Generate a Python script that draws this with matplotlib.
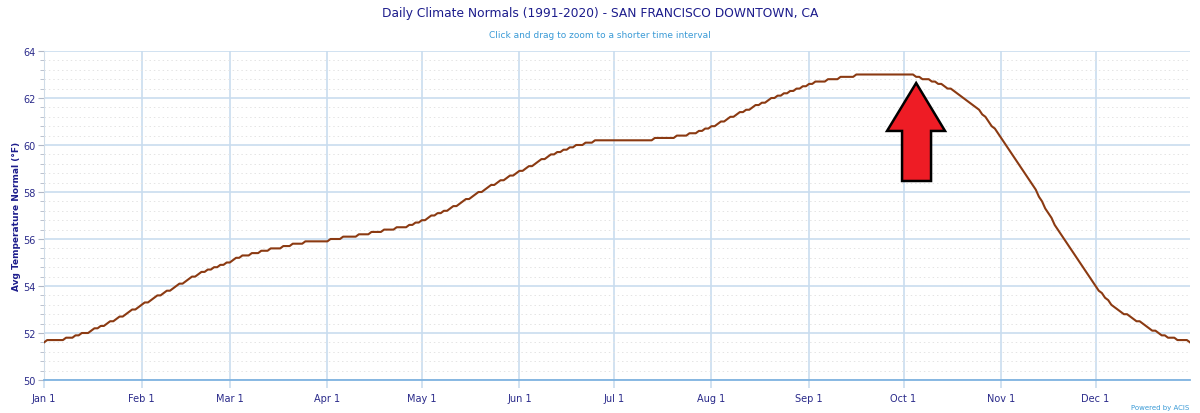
import matplotlib
matplotlib.use("Agg")
import matplotlib.pyplot as plt
from matplotlib.patches import Polygon
from matplotlib.ticker import MultipleLocator
import numpy as np

# Daily normal average temperature (°F), Jan 1 .. Dec 31 (365 days)
jan = [51.6, 51.7, 51.7, 51.7, 51.7, 51.7, 51.7, 51.8, 51.8, 51.8, 51.9, 51.9, 52.0, 52.0, 52.0, 52.1,
       52.2, 52.2, 52.3, 52.3, 52.4, 52.5, 52.5, 52.6, 52.7, 52.7, 52.8, 52.9, 53.0, 53.0, 53.1]
feb = [53.2, 53.3, 53.3, 53.4, 53.5, 53.6, 53.6, 53.7, 53.8, 53.8, 53.9, 54.0, 54.1, 54.1, 54.2, 54.3,
       54.4, 54.4, 54.5, 54.6, 54.6, 54.7, 54.7, 54.8, 54.8, 54.9, 54.9, 55.0]
mar = [55.0, 55.1, 55.2, 55.2, 55.3, 55.3, 55.3, 55.4, 55.4, 55.4, 55.5, 55.5, 55.5, 55.6, 55.6, 55.6,
       55.6, 55.7, 55.7, 55.7, 55.8, 55.8, 55.8, 55.8, 55.9, 55.9, 55.9, 55.9, 55.9, 55.9, 55.9]
apr = [55.9, 56.0, 56.0, 56.0, 56.0, 56.1, 56.1, 56.1, 56.1, 56.1, 56.2, 56.2, 56.2, 56.2, 56.3, 56.3,
       56.3, 56.3, 56.4, 56.4, 56.4, 56.4, 56.5, 56.5, 56.5, 56.5, 56.6, 56.6, 56.7, 56.7]
may = [56.8, 56.8, 56.9, 57.0, 57.0, 57.1, 57.1, 57.2, 57.2, 57.3, 57.4, 57.4, 57.5, 57.6, 57.7, 57.7,
       57.8, 57.9, 58.0, 58.0, 58.1, 58.2, 58.3, 58.3, 58.4, 58.5, 58.5, 58.6, 58.7, 58.7, 58.8]
jun = [58.9, 58.9, 59.0, 59.1, 59.1, 59.2, 59.3, 59.4, 59.4, 59.5, 59.6, 59.6, 59.7, 59.7, 59.8, 59.8,
       59.9, 59.9, 60.0, 60.0, 60.0, 60.1, 60.1, 60.1, 60.2, 60.2, 60.2, 60.2, 60.2, 60.2]
jul = [60.2, 60.2, 60.2, 60.2, 60.2, 60.2, 60.2, 60.2, 60.2, 60.2, 60.2, 60.2, 60.2,
       60.3, 60.3, 60.3, 60.3, 60.3, 60.3, 60.3, 60.4, 60.4, 60.4, 60.4, 60.5, 60.5, 60.5,
       60.6, 60.6, 60.7, 60.7]
aug = [60.8, 60.8, 60.9, 61.0, 61.0, 61.1, 61.2, 61.2, 61.3, 61.4, 61.4, 61.5, 61.5, 61.6, 61.7, 61.7,
       61.8, 61.8, 61.9, 62.0, 62.0, 62.1, 62.1, 62.2, 62.2, 62.3, 62.3, 62.4, 62.4, 62.5, 62.5]
sep = [62.6, 62.6, 62.7, 62.7, 62.7, 62.7, 62.8, 62.8, 62.8, 62.8, 62.9, 62.9, 62.9, 62.9, 62.9,
       63.0, 63.0, 63.0, 63.0, 63.0, 63.0, 63.0, 63.0, 63.0, 63.0, 63.0, 63.0, 63.0, 63.0, 63.0]
oct_ = [63.0, 63.0, 63.0, 63.0, 62.9, 62.9, 62.8, 62.8, 62.8, 62.7, 62.7, 62.6, 62.6, 62.5, 62.4, 62.4,
        62.3, 62.2, 62.1, 62.0, 61.9, 61.8, 61.7, 61.6, 61.5, 61.3, 61.2, 61.0, 60.8, 60.7, 60.5]
nov = [60.3, 60.1, 59.9, 59.7, 59.5, 59.3, 59.1, 58.9, 58.7, 58.5, 58.3, 58.1, 57.8, 57.6, 57.3, 57.1,
       56.9, 56.6, 56.4, 56.2, 56.0, 55.8, 55.6, 55.4, 55.2, 55.0, 54.8, 54.6, 54.4, 54.2]
dec = [54.0, 53.8, 53.7, 53.5, 53.4, 53.2, 53.1, 53.0, 52.9, 52.8, 52.8, 52.7, 52.6, 52.5, 52.5, 52.4,
       52.3, 52.2, 52.1, 52.1, 52.0, 51.9, 51.9, 51.8, 51.8, 51.8, 51.7, 51.7, 51.7, 51.7, 51.6]

months = [jan, feb, mar, apr, may, jun, jul, aug, sep, oct_, nov, dec]
month_labels = ["Jan 1", "Feb 1", "Mar 1", "Apr 1", "May 1", "Jun 1",
                "Jul 1", "Aug 1", "Sep 1", "Oct 1", "Nov 1", "Dec 1"]

temps = np.concatenate([np.array(m) for m in months])
days = np.arange(len(temps))
month_starts = np.cumsum([0] + [len(m) for m in months[:-1]])

title_col = "#1c1c8c"
tick_col = "#2a2a8a"
grid_col = "#c9ddef"

fig = plt.figure(figsize=(12, 4.14), dpi=100)
ax = fig.add_axes([0.0367, 0.0797, 0.955, 0.7947])

ax.set_xlim(0, 364)
ax.set_ylim(50, 64)

ax.set_xticks(month_starts)
ax.set_xticklabels(month_labels)
ax.yaxis.set_major_locator(MultipleLocator(2))
ax.yaxis.set_minor_locator(MultipleLocator(0.4))

ax.grid(True, which="major", axis="both", color=grid_col, linewidth=1.2, zorder=0)
ax.grid(True, which="minor", axis="y", color="#e4e4e4", linewidth=0.7,
        linestyle=(0, (1.5, 3)), zorder=0)

for s in ["top", "right"]:
    ax.spines[s].set_visible(False)
ax.spines["left"].set_color("#d0dce8")
ax.spines["left"].set_linewidth(0.8)
ax.spines["bottom"].set_color("#7fb3e0")
ax.spines["bottom"].set_linewidth(1.3)

ax.tick_params(axis="x", which="major", length=6, width=1.2, color=grid_col,
               labelsize=7, labelcolor=tick_col, pad=3)
ax.tick_params(axis="y", which="major", length=4, width=0.8, color="#b0b8c8",
               labelsize=7, labelcolor=tick_col, pad=2)
ax.tick_params(axis="y", which="minor", length=3, width=0.6, color="#b0b8c8")

ax.plot(days, temps, color="#8b3a12", linewidth=1.5, zorder=3)

ax.set_ylabel("Avg Temperature Normal (°F)", fontsize=6.5, fontweight="bold",
              color=title_col, labelpad=1.5)

fig.text(0.5, 0.968, "Daily Climate Normals (1991-2020) - SAN FRANCISCO DOWNTOWN, CA",
         ha="center", va="center", fontsize=8.8, color=title_col)
fig.text(0.5, 0.915, "Click and drag to zoom to a shorter time interval",
         ha="center", va="center", fontsize=6.5, color="#3a9ad6")
fig.text(0.991, 0.008, "Powered by ACIS", ha="right", va="bottom",
         fontsize=5, color="#3a9ad6")

# Red annotation arrow (axes-fraction coordinates)
arrow_pts = [(0.7610, 0.9027), (0.7862, 0.757), (0.7740, 0.757), (0.7740, 0.6049),
             (0.7487, 0.6049), (0.7487, 0.757), (0.7356, 0.757)]
ax.add_patch(Polygon(arrow_pts, closed=True, transform=ax.transAxes,
                     facecolor="#ee1c25", edgecolor="black", linewidth=1.8,
                     joinstyle="miter", zorder=5))

fig.savefig("out.png", dpi=100)
